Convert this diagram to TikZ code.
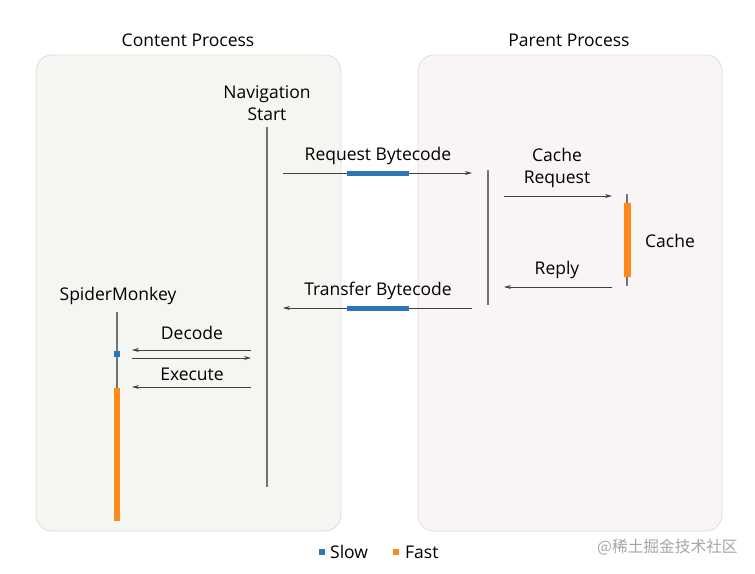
\documentclass[tikz,border=0pt]{standalone}
\usepackage{fontspec}
\setmainfont{Open Sans}
\newfontfamily\cjk{Noto Sans CJK SC}
\usetikzlibrary{arrows.meta}
\definecolor{slowblue}{HTML}{2E75B6}
\definecolor{fastorange}{HTML}{FF8A1C}
\definecolor{contentbg}{HTML}{F3F6F1}
\definecolor{parentbg}{HTML}{F9F5F4}

\begin{document}
\begin{tikzpicture}[x=1pt, y=-1pt,
    every node/.style={font=\fontsize{17.5}{22}\selectfont, align=center, inner sep=0pt},
    lane/.style={draw=black!13, line width=0.8pt, rounded corners=16pt},
    life/.style={draw=black!55, line width=1.2pt},
    msg/.style={draw=black!75, line width=0.8pt, -{Stealth[length=7pt, width=4pt]}},
    slowbar/.style={fill=slowblue, draw=none},
    fastbar/.style={fill=fastorange, draw=none}]
  \useasboundingbox (0,0) rectangle (755,573);
  \fill[white] (0,0) rectangle (755,573);
  % process boxes
  \draw[lane, fill=contentbg] (36,55) rectangle (341,531);
  \draw[lane, fill=parentbg] (418,55) rectangle (722,531);
  \node (content) at (188,40) {Content Process};
  \node (parent) at (569,40) {Parent Process};

  % lifelines
  \node (nav) at (267,103) {Navigation\\Start};
  \node (spider) at (118,296) {SpiderMonkey};
  \coordinate (nav-top) at (267,127);
  \coordinate (nav-bot) at (267,487);
  \coordinate (par-top) at (488,170);
  \coordinate (par-bot) at (488,305);
  \coordinate (cache-top) at (627,194);
  \coordinate (cache-bot) at (627,286);
  \coordinate (sm-top) at (117,312);
  \coordinate (sm-bot) at (117,521);
  \draw[life] (nav-top) -- (nav-bot);
  \draw[life] (par-top) -- (par-bot);
  \draw[life] (cache-top) -- (cache-bot);
  \draw[life] (sm-top) -- (sm-bot);
  \fill[fastbar] (623.5,203) rectangle (630.5,277);
  \fill[slowbar] (114,351) rectangle (120,357);
  \fill[fastbar] (114,388) rectangle (120,521);
  \node (cache) at (670,241) {Cache};

  % messages
  \coordinate (req-a) at (283,173);
  \coordinate (req-b) at (472,173);
  \coordinate (trf-a) at (472,308);
  \coordinate (trf-b) at (283,308);
  \coordinate (creq-a) at (504,196);
  \coordinate (creq-b) at (612,196);
  \coordinate (rep-a) at (612,287);
  \coordinate (rep-b) at (504,287);
  \coordinate (dec-a) at (251,350);
  \coordinate (dec-b) at (132,350);
  \coordinate (ret-a) at (132,358);
  \coordinate (ret-b) at (251,358);
  \coordinate (exe-a) at (251,387);
  \coordinate (exe-b) at (132,387);
  \draw[msg] (req-a) -- (req-b);
  \draw[msg] (trf-a) -- (trf-b);
  \draw[msg] (creq-a) -- (creq-b);
  \draw[msg] (rep-a) -- (rep-b);
  \draw[msg] (dec-a) -- (dec-b);
  \draw[msg] (ret-a) -- (ret-b);
  \draw[msg] (exe-a) -- (exe-b);
  \fill[slowbar] (347,170.5) rectangle (409,176);
  \fill[slowbar] (347,305.5) rectangle (409,311);
  \node (req) at (378,156) {Request Bytecode};
  \node (trf) at (378,291) {Transfer Bytecode};
  \node (creq) at (557,168) {Cache\\Request};
  \node (rep) at (557,270) {Reply};
  \node (dec) at (192,333) {Decode};
  \node (exe) at (192,374) {Execute};

  % legend
  \fill[slowbar] (319,549) rectangle (325,555);
  \node[anchor=west] (slow) at (330,552) {Slow};
  \fill[fastbar] (393,549) rectangle (399,555);
  \node[anchor=west] (fast) at (405,552) {Fast};
  \node[anchor=west, text=black!35, font=\fontsize{15.7}{18}\cjk] (mark) at (597,547) {@稀土掘金技术社区};
\end{tikzpicture}
\end{document}
